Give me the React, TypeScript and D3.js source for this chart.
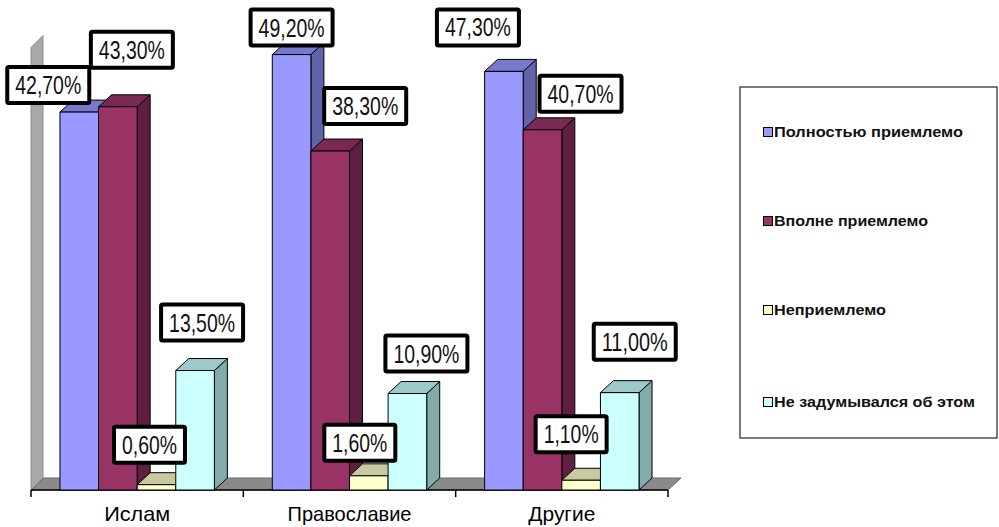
import React from "react";
import * as d3 from "d3";

const categories = ["Ислам", "Православие", "Другие"];
const seriesNames = [
  "Полностью приемлемо",
  "Вполне приемлемо",
  "Неприемлемо",
  "Не задумывался об этом",
];
const fullyAcceptable = [42.7, 49.2, 47.3];
const quiteAcceptable = [43.3, 38.3, 40.7];
const unacceptable = [0.6, 1.6, 1.1];
const neverThought = [13.5, 10.9, 11.0];
const seriesValues = [fullyAcceptable, quiteAcceptable, unacceptable, neverThought];
const yMax = 50;

// layout / style (not data)
const faceColors = [
  { front: "#9999ff", top: "#7878cc", side: "#6262a8" },
  { front: "#993366", top: "#7a2952", side: "#5f1f40" },
  { front: "#ffffcc", top: "#c9c9a0", side: "#a3a382" },
  { front: "#ccffff", top: "#9ccaca", side: "#82abab" },
];
// label nudges [series][category] relative to the bar's front-top centre
const labelNudge = [
  [[-31, -27], [0, -27], [-26, -44]],
  [[14, -57], [35, -45], [38, -36]],
  [[-7, -40], [-9, -33], [-10, -46]],
  [[7, -48], [19, -40], [15, -51]],
];
const catTextLen = [66, 124, 67];
const legendTextLen = [189, 154, 112, 201];
const legendY = [132, 221, 310, 402];

const W = 999;
const H = 527;
const X0 = 31;
const X1 = 668;
const BASE = 490;
const DX = 13;
const DY = -12;

const fmt = (v: number) => v.toFixed(2).replace(".", ",") + "%";

export default function App() {
  const x = d3.scaleBand<string>().domain(categories).range([X0, X1]).padding(0);
  const xs = d3
    .scaleBand<number>()
    .domain(seriesNames.map((_, i) => i))
    .range([0, x.bandwidth()])
    .paddingInner(0)
    .paddingOuter(0.75);
  const y = d3.scaleLinear().domain([0, yMax]).range([BASE, BASE - 442.5]);
  const bw = xs.bandwidth();
  const line = d3.line();

  const bars: React.ReactNode[] = [];
  const labels: React.ReactNode[] = [];
  categories.forEach((c, ci) => {
    seriesValues.forEach((vals, si) => {
      const v = vals[ci];
      const x0 = (x(c) as number) + (xs(si) as number);
      const x1 = x0 + bw;
      const yt = y(v);
      const col = faceColors[si];
      const front = line([[x0, BASE], [x0, yt], [x1, yt], [x1, BASE]]) + "Z";
      const top = line([[x0, yt], [x0 + DX, yt + DY], [x1 + DX, yt + DY], [x1, yt]]) + "Z";
      const side = line([[x1, yt], [x1 + DX, yt + DY], [x1 + DX, BASE + DY], [x1, BASE]]) + "Z";
      bars.push(
        <g key={`b${ci}-${si}`} stroke="#000" strokeWidth={1} strokeLinejoin="round">
          <path d={side} fill={col.side} />
          <path d={top} fill={col.top} />
          <path d={front} fill={col.front} />
        </g>
      );
      const t = fmt(v);
      const tl = t.length * 11;
      const cx = x0 + bw / 2 + labelNudge[si][ci][0];
      const cy = yt + labelNudge[si][ci][1];
      const bwid = tl + 16;
      const bh = 36;
      labels.push(
        <g key={`l${ci}-${si}`}>
          <rect
            x={cx - bwid / 2}
            y={cy - bh / 2}
            width={bwid}
            height={bh}
            fill="#fff"
            stroke="#000"
            strokeWidth={4}
            rx={1.5}
          />
          <text
            x={cx}
            y={cy + 9}
            textAnchor="middle"
            fontFamily="'Liberation Sans', Arial, sans-serif"
            fontSize={25}
            textLength={tl}
            lengthAdjust="spacingAndGlyphs"
            fill="#111"
          >
            {t}
          </text>
        </g>
      );
    });
  });

  const wall = line([[X0, BASE], [X0, y(yMax)], [X0 + DX - 1, y(yMax) + DY], [X0 + DX - 1, BASE + DY]]) + "Z";
  const floor = line([[X0, BASE], [X1, BASE], [X1 + DX, BASE + DY], [X0 + DX, BASE + DY]]) + "Z";
  const ticks = [...categories.map((c) => x(c) as number), X1];

  return (
    <svg
      width={W}
      height={H}
      viewBox={`0 0 ${W} ${H}`}
      style={{ position: "absolute", left: 0, top: 0, background: "#fff" }}
    >
      <path d={wall} fill="#a8a8a8" stroke="#8c8c8c" strokeWidth={1} />
      <path d={floor} fill="#8a8a8a" stroke="#6a6a6a" strokeWidth={1} />
      <line x1={X0} x2={X1} y1={BASE} y2={BASE} stroke="#000" strokeWidth={1.5} />
      {ticks.map((t, i) => (
        <line key={`t${i}`} x1={t} x2={t} y1={BASE} y2={BASE + 7} stroke="#000" strokeWidth={1.5} />
      ))}
      {bars}
      {labels}
      {categories.map((c, i) => (
        <text
          key={`c${i}`}
          x={(x(c) as number) + x.bandwidth() / 2}
          y={521}
          textAnchor="middle"
          fontFamily="'Liberation Sans', Arial, sans-serif"
          fontSize={21}
          textLength={catTextLen[i]}
          lengthAdjust="spacingAndGlyphs"
          fill="#000"
        >
          {c}
        </text>
      ))}
      <rect x={740} y={87} width={257} height={351} fill="#fff" stroke="#222" strokeWidth={1.2} />
      {seriesNames.map((n, i) => (
        <g key={`lg${i}`}>
          <rect
            x={763.5}
            y={legendY[i] - 4.5}
            width={9}
            height={9}
            fill={faceColors[i].front}
            stroke="#000"
            strokeWidth={1}
          />
          <text
            x={774}
            y={legendY[i] + 5}
            fontFamily="'Liberation Sans', Arial, sans-serif"
            fontSize={14}
            fontWeight="bold"
            textLength={legendTextLen[i]}
            lengthAdjust="spacingAndGlyphs"
            fill="#111"
          >
            {n}
          </text>
        </g>
      ))}
    </svg>
  );
}
